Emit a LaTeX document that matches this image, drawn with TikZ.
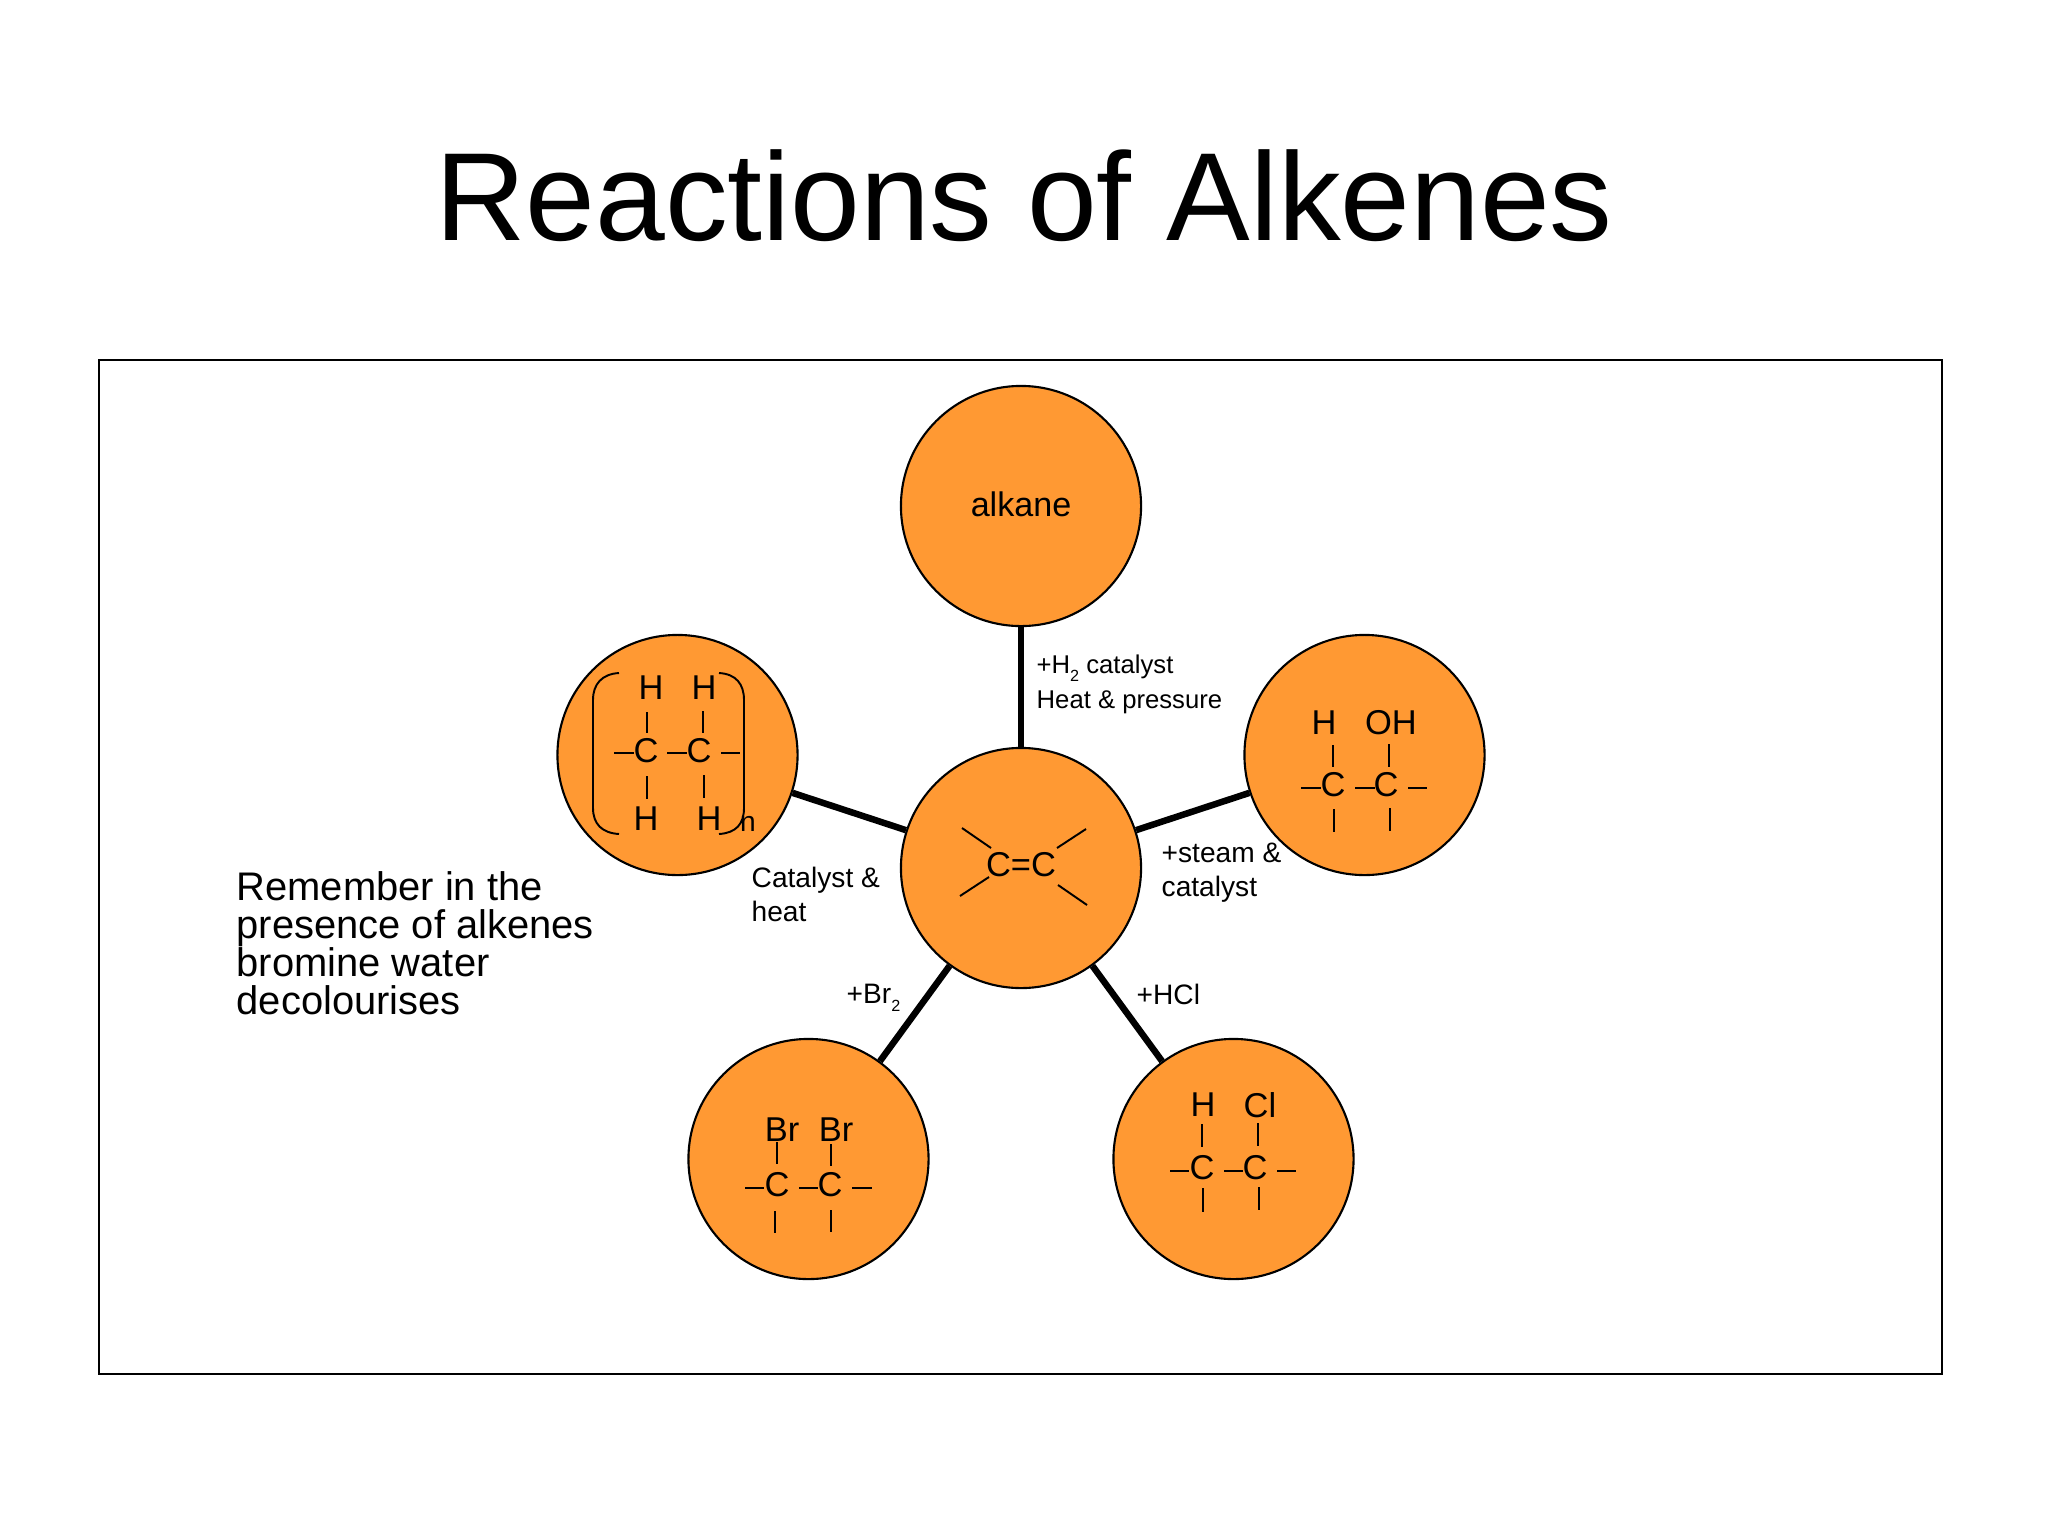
\documentclass[tikz,border=0pt]{standalone}
\usepackage{fontspec}
\setmainfont{Liberation Sans}
\usepackage{xcolor}
\usepackage{tikz}
\definecolor{blob}{HTML}{FF9933}
\newcommand{\lowtwo}{\raisebox{-0.55ex}{\fontsize{4.6}{5}\selectfont 2}}
\tikzset{
  blobn/.style={circle, draw=black, fill=blob, line width=0.6pt, minimum size=2.4cm, inner sep=0pt, font=\fontsize{9.7}{11.6}\selectfont},
  link/.style={draw=black, line width=1.85pt},
  bond/.style={draw=black, line width=0.55pt},
  atom/.style={text=black, inner sep=0pt, font=\fontsize{9.8}{11.8}\selectfont},
  lab/.style={text=black, inner sep=0pt, anchor=west, align=left, font=\fontsize{8}{9.7}\selectfont},
}

\begin{document}
\begin{tikzpicture}[x=0.01cm,y=-0.01cm]
  \useasboundingbox (0,0) rectangle (2048,1536);

  \node[inner sep=0pt, font=\fontsize{35.65}{42}\selectfont] (title) at (1024,196) {Reactions of Alkenes};
  \draw[line width=0.55pt] (99,360) rectangle (1942,1374);

  \node[blobn] (alkane) at (1021,506) {};
  \node[atom,font=\fontsize{9.7}{11.6}\selectfont] (alkanet) at (1021,504) {alkane};
  \node[blobn] (alkene) at (1021,868) {};
  \node[blobn] (polymer) at (677.5,755) {};
  \node[blobn] (alcohol) at (1364.5,755) {};
  \node[blobn] (dibromo) at (808.5,1159) {};
  \node[blobn] (chloro) at (1233.5,1159) {};

  \draw[link] (alkene) -- (alkane);
  \draw[link] (alkene) -- (polymer);
  \draw[link] (alkene) -- (alcohol);
  \draw[link] (alkene) -- (dibromo);
  \draw[link] (alkene) -- (chloro);

  % alkene
  \node[atom] (cc) at (1021,865) {C=C};
  \draw[bond] (962,828) -- (991,848) (960,896) -- (989,877);
  \draw[bond] (1086,829) -- (1057,848) (1087,905) -- (1058,885);

  % polymer
  \node[atom] (ph1) at (651,688) {H};
  \node[atom] (ph2) at (704,688) {H};
  \node[atom] (pc1) at (646,751) {C};
  \node[atom] (pc2) at (699,751) {C};
  \node[atom] (ph3) at (646,819) {H};
  \node[atom] (ph4) at (709,819) {H};
  \node[atom,font=\fontsize{8}{9.7}\selectfont] (pn) at (748,824) {n};
  \draw[bond] (647,712) -- (647,733) (703,711) -- (703,733);
  \draw[bond] (614,753) -- (634,753) (667,753) -- (687,753) (721,753) -- (740,753);
  \draw[bond] (647,776) -- (647,799) (704,775) -- (704,798);
  \draw[bond] (619,673) .. controls (602,674) and (593,684) .. (593,700) -- (593,808) .. controls (593,824) and (602,833) .. (619,834);
  \draw[bond] (719,673) .. controls (736,674) and (744,684) .. (744,700) -- (744,808) .. controls (744,824) and (736,833) .. (719,834);

  % alcohol
  \node[atom] (ah) at (1324,723) {H};
  \node[atom] (aoh) at (1391,723) {OH};
  \node[atom] (ac1) at (1333,785) {C};
  \node[atom] (ac2) at (1386,785) {C};
  \draw[bond] (1333,745) -- (1333,767) (1389,744) -- (1389,767);
  \draw[bond] (1301,788) -- (1321,788) (1355,788) -- (1375,788) (1408,788) -- (1427,788);
  \draw[bond] (1334,809) -- (1334,832) (1390,808) -- (1390,831);

  % dibromo
  \node[atom] (br1) at (782,1130) {Br};
  \node[atom] (br2) at (836,1130) {Br};
  \node[atom] (dc1) at (777,1185) {C};
  \node[atom] (dc2) at (830,1185) {C};
  \draw[bond] (777,1142) -- (777,1164) (831,1144) -- (831,1166);
  \draw[bond] (745,1188) -- (764,1188) (799,1188) -- (818,1188) (852,1188) -- (872,1188);
  \draw[bond] (775,1211) -- (775,1233) (831,1210) -- (831,1232);

  % chloro
  \node[atom] (ch) at (1203,1105) {H};
  \node[atom] (ccl) at (1260,1105) {Cl};
  \node[atom] (cc1) at (1202,1168) {C};
  \node[atom] (cc2) at (1255,1168) {C};
  \draw[bond] (1202,1124) -- (1202,1147) (1258,1123) -- (1258,1146);
  \draw[bond] (1170,1171) -- (1189,1171) (1224,1171) -- (1243,1171) (1277,1171) -- (1296,1171);
  \draw[bond] (1203,1188) -- (1203,1212) (1259,1187) -- (1259,1210);

  \node[lab,font=\fontsize{7.3}{9.9}\selectfont] (labh) at (1036,684.5) {+H\lowtwo{} catalyst\\Heat \& pressure};
  \node[lab] (labs) at (1161,872.5) {+steam \&\\catalyst};
  \node[lab] (labc) at (751,894.5) {Catalyst \&\\heat};
  \node[lab] (labb) at (846,997.5) {+Br\lowtwo};
  \node[lab] (labd) at (1136,994) {+HCl};

  \node[inner sep=0pt, anchor=west, align=left, font=\fontsize{11.35}{10.8}\selectfont] (note) at (236,943.5) {Remember in the\\presence of alkenes\\bromine water\\decolourises};
\end{tikzpicture}
\end{document}
